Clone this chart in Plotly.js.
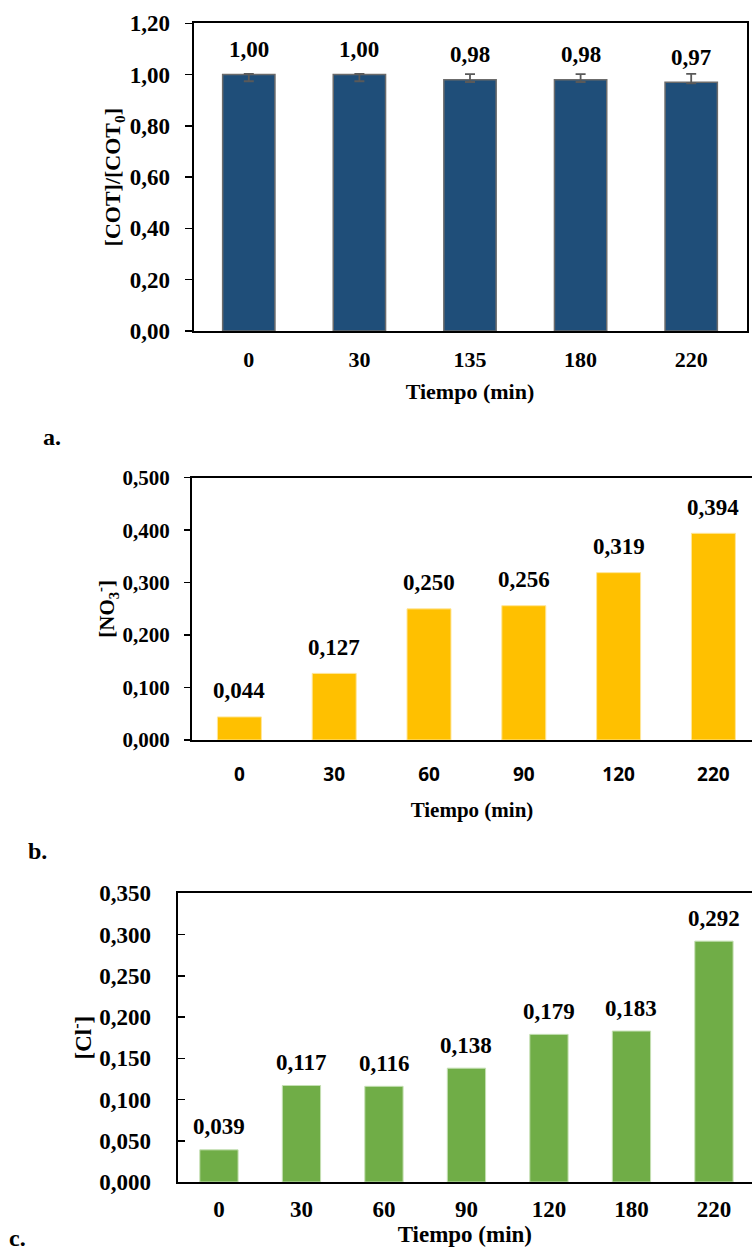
<!DOCTYPE html>
<html>
<head>
<meta charset="utf-8">
<script src="https://cdn.plot.ly/plotly-3.0.1.min.js"></script>
<style>
  html, body { margin: 0; padding: 0; background: #ffffff; }
  #fig { width: 752px; height: 1250px; }
</style>
</head>
<body>
<div id="fig"></div>
<script>
// (a) Relative total organic carbon over time, with error bars
const tiemposA = ['0', '30', '135', '180', '220'];
const cotRelativo = [1.00, 1.00, 0.98, 0.98, 0.97];
const cotErrorMas = [0.003, 0.003, 0.022, 0.022, 0.033];
const cotErrorMenos = [0.026, 0.026, 0.009, 0.009, 0.004];

// (b) Nitrate concentration over time
const tiemposB = ['0', '30', '60', '90', '120', '220'];
const nitrato = [0.044, 0.127, 0.250, 0.256, 0.319, 0.394];

// (c) Chloride concentration over time
const tiemposC = ['0', '30', '60', '90', '120', '180', '220'];
const cloruro = [0.039, 0.117, 0.116, 0.138, 0.179, 0.183, 0.292];

const W = 752, H = 1250;
const SERIF = 'Liberation Serif, Times New Roman, serif';
const SANS = 'Open Sans, Liberation Sans, sans-serif';

// pixel box -> paper domain helpers
const dx = (l, r) => [l / W, Math.min(r / W, 1)];
const dy = (top, bottom) => [1 - bottom / H, 1 - top / H];

const coma = (v, d) => v.toFixed(d).replace('.', ',');

const traces = [
  {
    type: 'bar', x: tiemposA, y: cotRelativo, xaxis: 'x', yaxis: 'y',
    width: 0.473,
    marker: { color: '#1F4E79', line: { color: '#6B6B6B', width: 1.5 } },
    error_y: {
      type: 'data', symmetric: false,
      array: cotErrorMas, arrayminus: cotErrorMenos,
      color: '#595959', thickness: 1.8, width: 5
    },
    hoverinfo: 'x+y'
  },
  {
    type: 'bar', x: tiemposB, y: nitrato, xaxis: 'x2', yaxis: 'y2',
    width: 0.464,
    marker: { color: '#FFC000', line: { color: '#FFE699', width: 1 } },
    hoverinfo: 'x+y'
  },
  {
    type: 'bar', x: tiemposC, y: cloruro, xaxis: 'x3', yaxis: 'y3',
    width: 0.464,
    marker: { color: '#70AD47', line: { color: '#C5E0B4', width: 1 } },
    hoverinfo: 'x+y'
  }
];

// value labels above each bar, taken from the same arrays
// (x given as the category index so numeric-looking names are not misread)
const annotations = [];
function etiquetas(cats, vals, dec, xa, ya, size, shift) {
  cats.forEach((c, i) => {
    annotations.push({
      x: i, y: vals[i], xref: xa, yref: ya,
      text: coma(vals[i], dec), showarrow: false,
      xanchor: 'center', yanchor: 'middle', yshift: shift,
      font: { family: SERIF, size: size, color: '#000000', weight: 'bold' }
    });
  });
}
etiquetas(tiemposA, cotRelativo, 2, 'x', 'y', 23, 25);
etiquetas(tiemposB, nitrato, 3, 'x2', 'y2', 23, 26);
etiquetas(tiemposC, cloruro, 3, 'x3', 'y3', 23, 23);

// panel letters
[['a.', 52, 437], ['b.', 37, 851], ['c.', 17, 1238]].forEach(([t, px, py]) => {
  annotations.push({
    text: t, xref: 'paper', yref: 'paper', x: px / W, y: 1 - py / H,
    xanchor: 'center', yanchor: 'middle', showarrow: false,
    font: { family: SERIF, size: 24, color: '#000000', weight: 'bold' }
  });
});

const tickFont = (s) => ({ family: SERIF, size: s, color: '#000000', weight: 'bold' });

const layout = {
  width: W, height: H,
  margin: { l: 0, r: 0, t: 0, b: 0 },
  paper_bgcolor: '#ffffff', plot_bgcolor: '#ffffff',
  separators: ',.',
  showlegend: false,
  font: { family: SERIF, color: '#000000' },

  // ---- panel a ----
  xaxis: {
    domain: dx(193.5, 746.5), anchor: 'y', type: 'category',
    range: [-0.5, 4.5],
    showline: true, mirror: true, linecolor: '#000000', linewidth: 2,
    ticks: '', showgrid: false, zeroline: false,
    tickfont: tickFont(22), ticklabelstandoff: 8,
    title: { text: 'Tiempo (min)', font: tickFont(22), standoff: 12 }
  },
  yaxis: {
    domain: dy(23.3, 331), anchor: 'x',
    range: [0, 1.2], dtick: 0.2, tickformat: '.2f',
    showline: true, mirror: true, linecolor: '#000000', linewidth: 2,
    ticks: 'outside', ticklen: 7, tickwidth: 1.5, tickcolor: '#000000',
    showgrid: false, zeroline: false,
    tickfont: tickFont(23), ticklabelstandoff: 10,
    title: { text: '[COT]/[COT<sub>0</sub>]', font: tickFont(22), standoff: 3 }
  },

  // ---- panel b ----
  xaxis2: {
    domain: dx(192, 761), anchor: 'y2', type: 'category',
    range: [-0.5, -0.5 + (W - 192) / 94.8],
    showline: true, mirror: true, linecolor: '#000000', linewidth: 2,
    ticks: '', showgrid: false, zeroline: false,
    tickfont: { family: SANS, size: 19, color: '#000000', weight: 'bold' },
    ticklabelstandoff: 16,
    title: { text: 'Tiempo (min)', font: tickFont(21), standoff: 17 }
  },
  yaxis2: {
    domain: dy(477.7, 740), anchor: 'x2',
    range: [0, 0.5], dtick: 0.1, tickformat: '.3f',
    showline: true, mirror: false, linecolor: '#000000', linewidth: 2,
    ticks: 'outside', ticklen: 6, tickwidth: 1.5, tickcolor: '#000000',
    showgrid: false, zeroline: false,
    tickfont: tickFont(21), ticklabelstandoff: 10,
    title: { text: '[NO<sub>3</sub><sup>-</sup>]', font: tickFont(21), standoff: 2 }
  },

  // ---- panel c ----
  xaxis3: {
    domain: dx(177.7, 755), anchor: 'y3', type: 'category',
    range: [-0.5, -0.5 + (W - 177.7) / 82.5],
    showline: true, mirror: true, linecolor: '#000000', linewidth: 2,
    ticks: '', showgrid: false, zeroline: false,
    tickfont: tickFont(23), ticklabelstandoff: 5,
    title: { text: 'Tiempo (min)', font: tickFont(23), standoff: 0 }
  },
  yaxis3: {
    domain: dy(893.3, 1182), anchor: 'x3',
    range: [0, 0.35], dtick: 0.05, tickformat: '.3f',
    showline: true, mirror: false, linecolor: '#000000', linewidth: 2,
    ticks: 'inside', ticklen: 7, tickwidth: 1.5, tickcolor: '#000000',
    showgrid: false, zeroline: false,
    tickfont: tickFont(23), ticklabelstandoff: 20,
    title: { text: '[Cl<sup>-</sup>]', font: tickFont(23), standoff: 1 }
  },

  annotations: annotations
};

Plotly.newPlot('fig', traces, layout, { displayModeBar: false, staticPlot: true });
</script>
</body>
</html>
